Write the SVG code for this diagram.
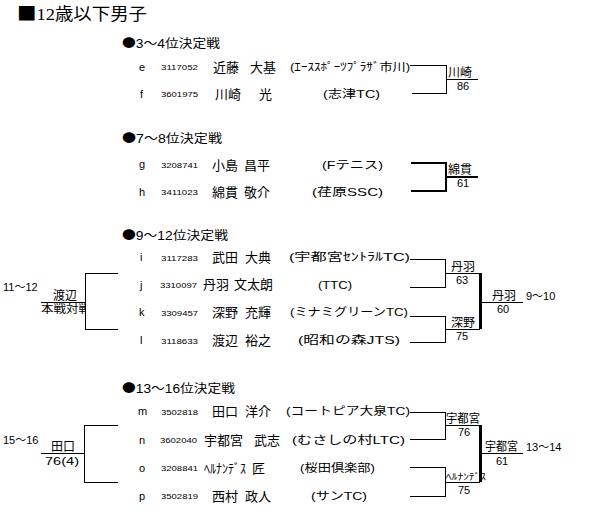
<svg xmlns="http://www.w3.org/2000/svg" width="589" height="524" viewBox="0 0 589 524">
<defs>
<style>
text{font-family:"Liberation Sans","Noto Sans CJK JP",sans-serif;fill:#000}
.t{font-family:"Liberation Serif","Noto Sans CJK JP",serif;font-size:17px}
.h{font-size:12px}
.j{font-family:"Noto Sans CJK JP",sans-serif}
.l{font-size:11px}
.n{font-size:8px}
.nm{font-size:13px}
.c{font-size:11.5px}
.w{font-size:12px}
.s{font-size:11px}
.ln{stroke:#000;stroke-width:1;fill:none;shape-rendering:crispEdges}
.tk{stroke:#000;stroke-width:2;fill:none;shape-rendering:crispEdges}
.tk3{stroke:#000;stroke-width:3;fill:none;shape-rendering:crispEdges}
</style>
<clipPath id="cl"><rect x="38" y="302" width="47" height="14"/></clipPath>
</defs>
<rect width="589" height="524" fill="#fff"/>
<text class="t" x="17" y="20" textLength="130" lengthAdjust="spacingAndGlyphs"><tspan class="j" style="font-size:18px">■</tspan>12歳以下男子</text>

<g id="sec34">
<text class="h" x="122" y="48" textLength="98" lengthAdjust="spacingAndGlyphs"><tspan class="j">●</tspan>3～4位決定戦</text>
<g id="e"><text class="l" x="139" y="71">e</text><text class="n" x="161" y="70" textLength="37" lengthAdjust="spacingAndGlyphs">3117052</text><text class="nm" x="213" y="72">近藤</text><text class="nm" x="250" y="72">大基</text><text class="c" x="290" y="71" textLength="120" lengthAdjust="spacingAndGlyphs">(ｴｰｽｽﾎﾟｰﾂﾌﾟﾗｻﾞ市川)</text></g>
<g id="f"><text class="l" x="140" y="98">f</text><text class="n" x="161" y="97" textLength="37" lengthAdjust="spacingAndGlyphs">3601975</text><text class="nm" x="215" y="99">川崎</text><text class="nm" x="259" y="99">光</text><text class="c" x="323" y="98" textLength="57" lengthAdjust="spacingAndGlyphs">(志津TC)</text></g>
</g>

<g id="sec78">
<text class="h" x="122" y="143" textLength="100" lengthAdjust="spacingAndGlyphs"><tspan class="j">●</tspan>7～8位決定戦</text>
<g id="g"><text class="l" x="139" y="168">g</text><text class="n" x="161" y="168" textLength="37" lengthAdjust="spacingAndGlyphs">3208741</text><text class="nm" x="212" y="170">小島</text><text class="nm" x="244" y="170">昌平</text><text class="c" x="322" y="169" textLength="61" lengthAdjust="spacingAndGlyphs">(Fテニス)</text></g>
<g id="h"><text class="l" x="139" y="196">h</text><text class="n" x="161" y="195" textLength="37" lengthAdjust="spacingAndGlyphs">3411023</text><text class="nm" x="212" y="197">綿貫</text><text class="nm" x="244" y="197">敬介</text><text class="c" x="312" y="196" textLength="71" lengthAdjust="spacingAndGlyphs">(荏原SSC)</text></g>
</g>

<g id="sec912">
<text class="h" x="122" y="240" textLength="106" lengthAdjust="spacingAndGlyphs"><tspan class="j">●</tspan>9～12位決定戦</text>
<g id="i"><text class="l" x="140" y="261">i</text><text class="n" x="161" y="261" textLength="37" lengthAdjust="spacingAndGlyphs">3117283</text><text class="nm" x="212" y="262">武田</text><text class="nm" x="245" y="262">大典</text><text class="c" x="289" y="261" textLength="121" lengthAdjust="spacingAndGlyphs">(宇都宮ｾﾝﾄﾗﾙTC)</text></g>
<g id="j"><text class="l" x="140" y="289">j</text><text class="n" x="160" y="288" textLength="37" lengthAdjust="spacingAndGlyphs">3310097</text><text class="nm" x="203" y="289">丹羽</text><text class="nm" x="234" y="289">文太朗</text><text class="c" x="318" y="289" textLength="34" lengthAdjust="spacingAndGlyphs">(TTC)</text></g>
<g id="k"><text class="l" x="139" y="316">k</text><text class="n" x="161" y="316" textLength="37" lengthAdjust="spacingAndGlyphs">3309457</text><text class="nm" x="212" y="317">深野</text><text class="nm" x="245" y="317">充輝</text><text class="c" x="290" y="316" textLength="118" lengthAdjust="spacingAndGlyphs">(ミナミグリーンTC)</text></g>
<g id="l"><text class="l" x="140" y="344">l</text><text class="n" x="161" y="344" textLength="37" lengthAdjust="spacingAndGlyphs">3118633</text><text class="nm" x="212" y="345">渡辺</text><text class="nm" x="245" y="345">裕之</text><text class="c" x="298" y="344" textLength="102" lengthAdjust="spacingAndGlyphs">(昭和の森JTS)</text></g>
</g>

<g id="sec1316">
<text class="h" x="122" y="393" textLength="113" lengthAdjust="spacingAndGlyphs"><tspan class="j">●</tspan>13～16位決定戦</text>
<g id="m"><text class="l" x="138" y="415">m</text><text class="n" x="161" y="415" textLength="37" lengthAdjust="spacingAndGlyphs">3502818</text><text class="nm" x="212" y="416">田口</text><text class="nm" x="245" y="416">洋介</text><text class="c" x="286" y="415" textLength="124" lengthAdjust="spacingAndGlyphs">(コートピア大泉TC)</text></g>
<g id="n"><text class="l" x="139" y="444">n</text><text class="n" x="160" y="443" textLength="37" lengthAdjust="spacingAndGlyphs">3602040</text><text class="nm" x="204" y="445">宇都宮</text><text class="nm" x="254" y="445">武志</text><text class="c" x="292" y="444" textLength="113" lengthAdjust="spacingAndGlyphs">(むさしの村LTC)</text></g>
<g id="o"><text class="l" x="139" y="472">o</text><text class="n" x="161" y="471" textLength="37" lengthAdjust="spacingAndGlyphs">3208841</text><text class="nm" x="204" y="473" textLength="42" lengthAdjust="spacingAndGlyphs">ﾍﾙﾅﾝﾃﾞｽ</text><text class="nm" x="252" y="473">匠</text><text class="c" x="300" y="472" textLength="75" lengthAdjust="spacingAndGlyphs">(桜田倶楽部)</text></g>
<g id="p"><text class="l" x="139" y="500">p</text><text class="n" x="161" y="499" textLength="37" lengthAdjust="spacingAndGlyphs">3502819</text><text class="nm" x="212" y="501">西村</text><text class="nm" x="245" y="501">政人</text><text class="c" x="311" y="500" textLength="56" lengthAdjust="spacingAndGlyphs">(サンTC)</text></g>
</g>

<g id="connectors">
<path class="ln" d="M410 65H446V93H412M446 79H478"/>
<path class="tk" d="M411 163H446V191H411M446 177H478"/>
<path class="ln" d="M410 259H445V287H410M445 273H480M410 316H445V342H410M445 329H480M480 302H523"/>
<path class="tk3" d="M480 273V329"/>
<path class="ln" d="M118 273H85V329H118M41 302H85"/>
<path class="ln" d="M410 412H445V439H410M445 425H480M410 467H445V496H410M445 482H480M480 453H523"/>
<path class="tk3" d="M480 425V482"/>
<path class="ln" d="M118 425H84V482H118M41 453H84"/>
</g>

<g id="results">
<text class="w" x="448" y="77">川崎</text><text class="s" x="457" y="90">86</text>
<text class="w" x="448" y="174">綿貫</text><text class="s" x="457" y="187">61</text>
<text class="w" x="451" y="271">丹羽</text><text class="s" x="456" y="284">63</text>
<text class="w" x="451" y="327">深野</text><text class="s" x="456" y="340">75</text>
<text class="w" x="492" y="300">丹羽</text><text class="s" x="497" y="313">60</text>
<text class="s" x="526" y="300">9～10</text>
<text class="s" x="3" y="291">11～12</text>
<text class="w" x="53" y="300">渡辺</text>
<text class="s" x="41" y="313" clip-path="url(#cl)" textLength="50" lengthAdjust="spacingAndGlyphs">本戦対戦</text>
<text class="w" x="446" y="423" textLength="34" lengthAdjust="spacingAndGlyphs">宇都宮</text><text class="s" x="458" y="436">76</text>
<text class="s" x="446" y="480" style="font-size:9px" textLength="40" lengthAdjust="spacingAndGlyphs">ﾍﾙﾅﾝﾃﾞｽ</text><text class="s" x="458" y="494">75</text>
<text class="w" x="485" y="451" textLength="33" lengthAdjust="spacingAndGlyphs">宇都宮</text><text class="s" x="496" y="465">61</text>
<text class="s" x="526" y="451">13～14</text>
<text class="s" x="3" y="444">15～16</text>
<text class="w" x="51" y="451">田口</text>
<text class="s" x="45" y="465" textLength="34" lengthAdjust="spacingAndGlyphs">76(4)</text>
</g>
</svg>
